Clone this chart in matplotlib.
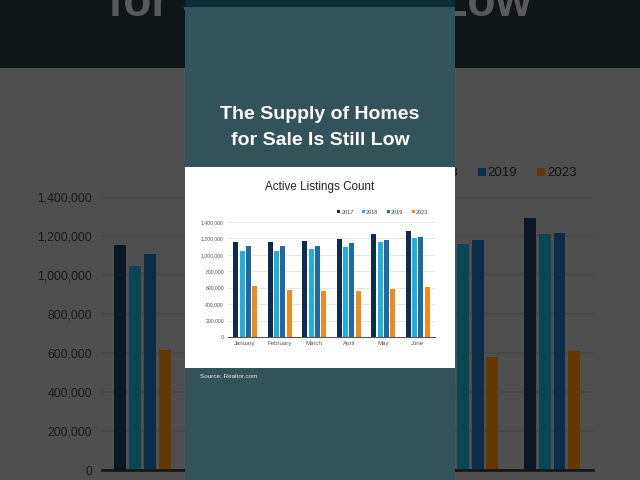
import matplotlib
matplotlib.use('Agg')
import matplotlib.pyplot as plt
from matplotlib.patches import Rectangle
from matplotlib.ticker import FuncFormatter
import numpy as np

# ---------------- data ----------------
months = ['January', 'February', 'March', 'April', 'May', 'June']
years = ['2017', '2018', '2019', '2023']
listings_2017 = [1155000, 1152000, 1172000, 1196000, 1255000, 1292000]
listings_2018 = [1048000, 1046000, 1068000, 1099000, 1158000, 1210000]
listings_2019 = [1108000, 1102000, 1112000, 1139000, 1180000, 1216000]
listings_2023 = [618000, 578000, 562000, 562000, 581000, 613000]
y_ticks = [0, 200000, 400000, 600000, 800000, 1000000, 1200000, 1400000]

chart_title = 'Active Listings Count'
headline = ['The Supply of Homes', 'for Sale Is Still Low']
source = 'Source: Realtor.com'

plt.rcParams['font.family'] = ['Liberation Sans', 'DejaVu Sans']

W, H = 640, 480
fig = plt.figure(figsize=(6.4, 4.8), dpi=100)
fig.patch.set_facecolor('#4f4f4f')

fg = dict(panel='#33535a', top='#0b2b36', box='#ffffff', title='#ffffff',
          ctitle='#222222', tick='#555555', grid='#e4e4e4', axis='#555555',
          legend='#444444', source='#e6eef0',
          bars=['#0e2d4e', '#21aee0', '#1f6aa5', '#ef8a1d'])
# enlarged, dimmed copy behind the frame
bg = dict(panel='#0f1618', top='#0f1618', box='#4f4f4f', title='#595959',
          ctitle='#1c1c1c', tick='#1a1a1a', grid='#494949', axis='#151515',
          legend='#141414', source='#3a3a3a',
          bars=['#0b1824', '#0b4654', '#0c2d4a', '#643805'])


def px(x, y, s):
    X = 320 + s * (x - 320)
    Y = 240 + s * (y - 240)
    return X / W, 1 - Y / H


def rect(x0, y0, x1, y1, s, color, z):
    fx0, fy1 = px(x0, y0, s)
    fx1, fy0 = px(x1, y1, s)
    fig.add_artist(Rectangle((fx0, fy0), fx1 - fx0, fy1 - fy0,
                             transform=fig.transFigure, facecolor=color,
                             edgecolor='none', zorder=z))


def draw(s, pal, z, background=False):
    rect(185, 0, 455, 480, s, pal['panel'], z + 0.1)
    rect(185, 0, 455, 7, s, pal['top'], z + 0.11)
    rect(185, 167.5, 455, 368, s, pal['box'], z + 0.12)
    lines = headline[1:] if background else headline
    ybs = [145.5] if background else [119, 145]
    for txt, yb in zip(lines, ybs):
        fx, fy = px(320, yb, s)
        fig.text(fx, fy, txt, ha='center', va='baseline', fontsize=14 * s,
                 weight='bold', color=pal['title'], zorder=z + 0.3)
    if not background:
        fx, fy = px(320, 187, s)
        fig.text(fx, fy, chart_title, ha='center', va='center',
                 fontsize=8.4 * s, color=pal['ctitle'], zorder=z + 0.3)
        fx, fy = px(200, 376, s)
        fig.text(fx, fy, source, ha='left', va='center', fontsize=4.6 * s,
                 color=pal['source'], zorder=z + 0.3)
    l, t = px(228, 222, s)
    r, b = px(435, 337, s)
    ax = fig.add_axes([l, b, r - l, t - b], zorder=z + 0.2)
    ax.set_facecolor('none')
    x = np.arange(len(months))
    series = [listings_2017, listings_2018, listings_2019, listings_2023]
    handles = []
    for i, vals in enumerate(series):
        hnd = ax.bar(x + (i - 1.5) * 0.18, vals, width=0.145,
                     color=pal['bars'][i], zorder=2)
        handles.append(hnd)
    ax.set_xlim(-0.5, len(months) - 0.5)
    ax.set_ylim(0, 1400000)
    ax.set_yticks(y_ticks)
    ax.yaxis.set_major_formatter(FuncFormatter(lambda v, p: f'{int(v):,}'))
    ax.set_xticks(x)
    ax.set_xticklabels(months)
    ax.grid(axis='y', color=pal['grid'], lw=0.6 * s, zorder=0)
    ax.set_axisbelow(True)
    for sp in ['top', 'right', 'left']:
        ax.spines[sp].set_visible(False)
    ax.spines['bottom'].set_color(pal['axis'])
    ax.spines['bottom'].set_linewidth(0.8 * s)
    ax.tick_params(axis='y', length=0, labelsize=3.7 * s, colors=pal['tick'],
                   pad=2.9 * s)
    ax.tick_params(axis='x', length=0, labelsize=4.4 * s, colors=pal['tick'],
                   pad=3.0 * s, labelbottom=not background)
    ax.legend(handles, years, ncol=4, loc='center right',
              bbox_to_anchor=px(428, 212, s), bbox_transform=fig.transFigure,
              frameon=False, fontsize=4 * s, handlelength=0.6,
              handleheight=0.6, handletextpad=0.15, columnspacing=1.5,
              borderpad=0, borderaxespad=0, labelcolor=pal['legend'])


draw(2.375, bg, 0, background=True)
draw(1.0, fg, 1)

fig.savefig('out.png', dpi=100, facecolor=fig.get_facecolor())
